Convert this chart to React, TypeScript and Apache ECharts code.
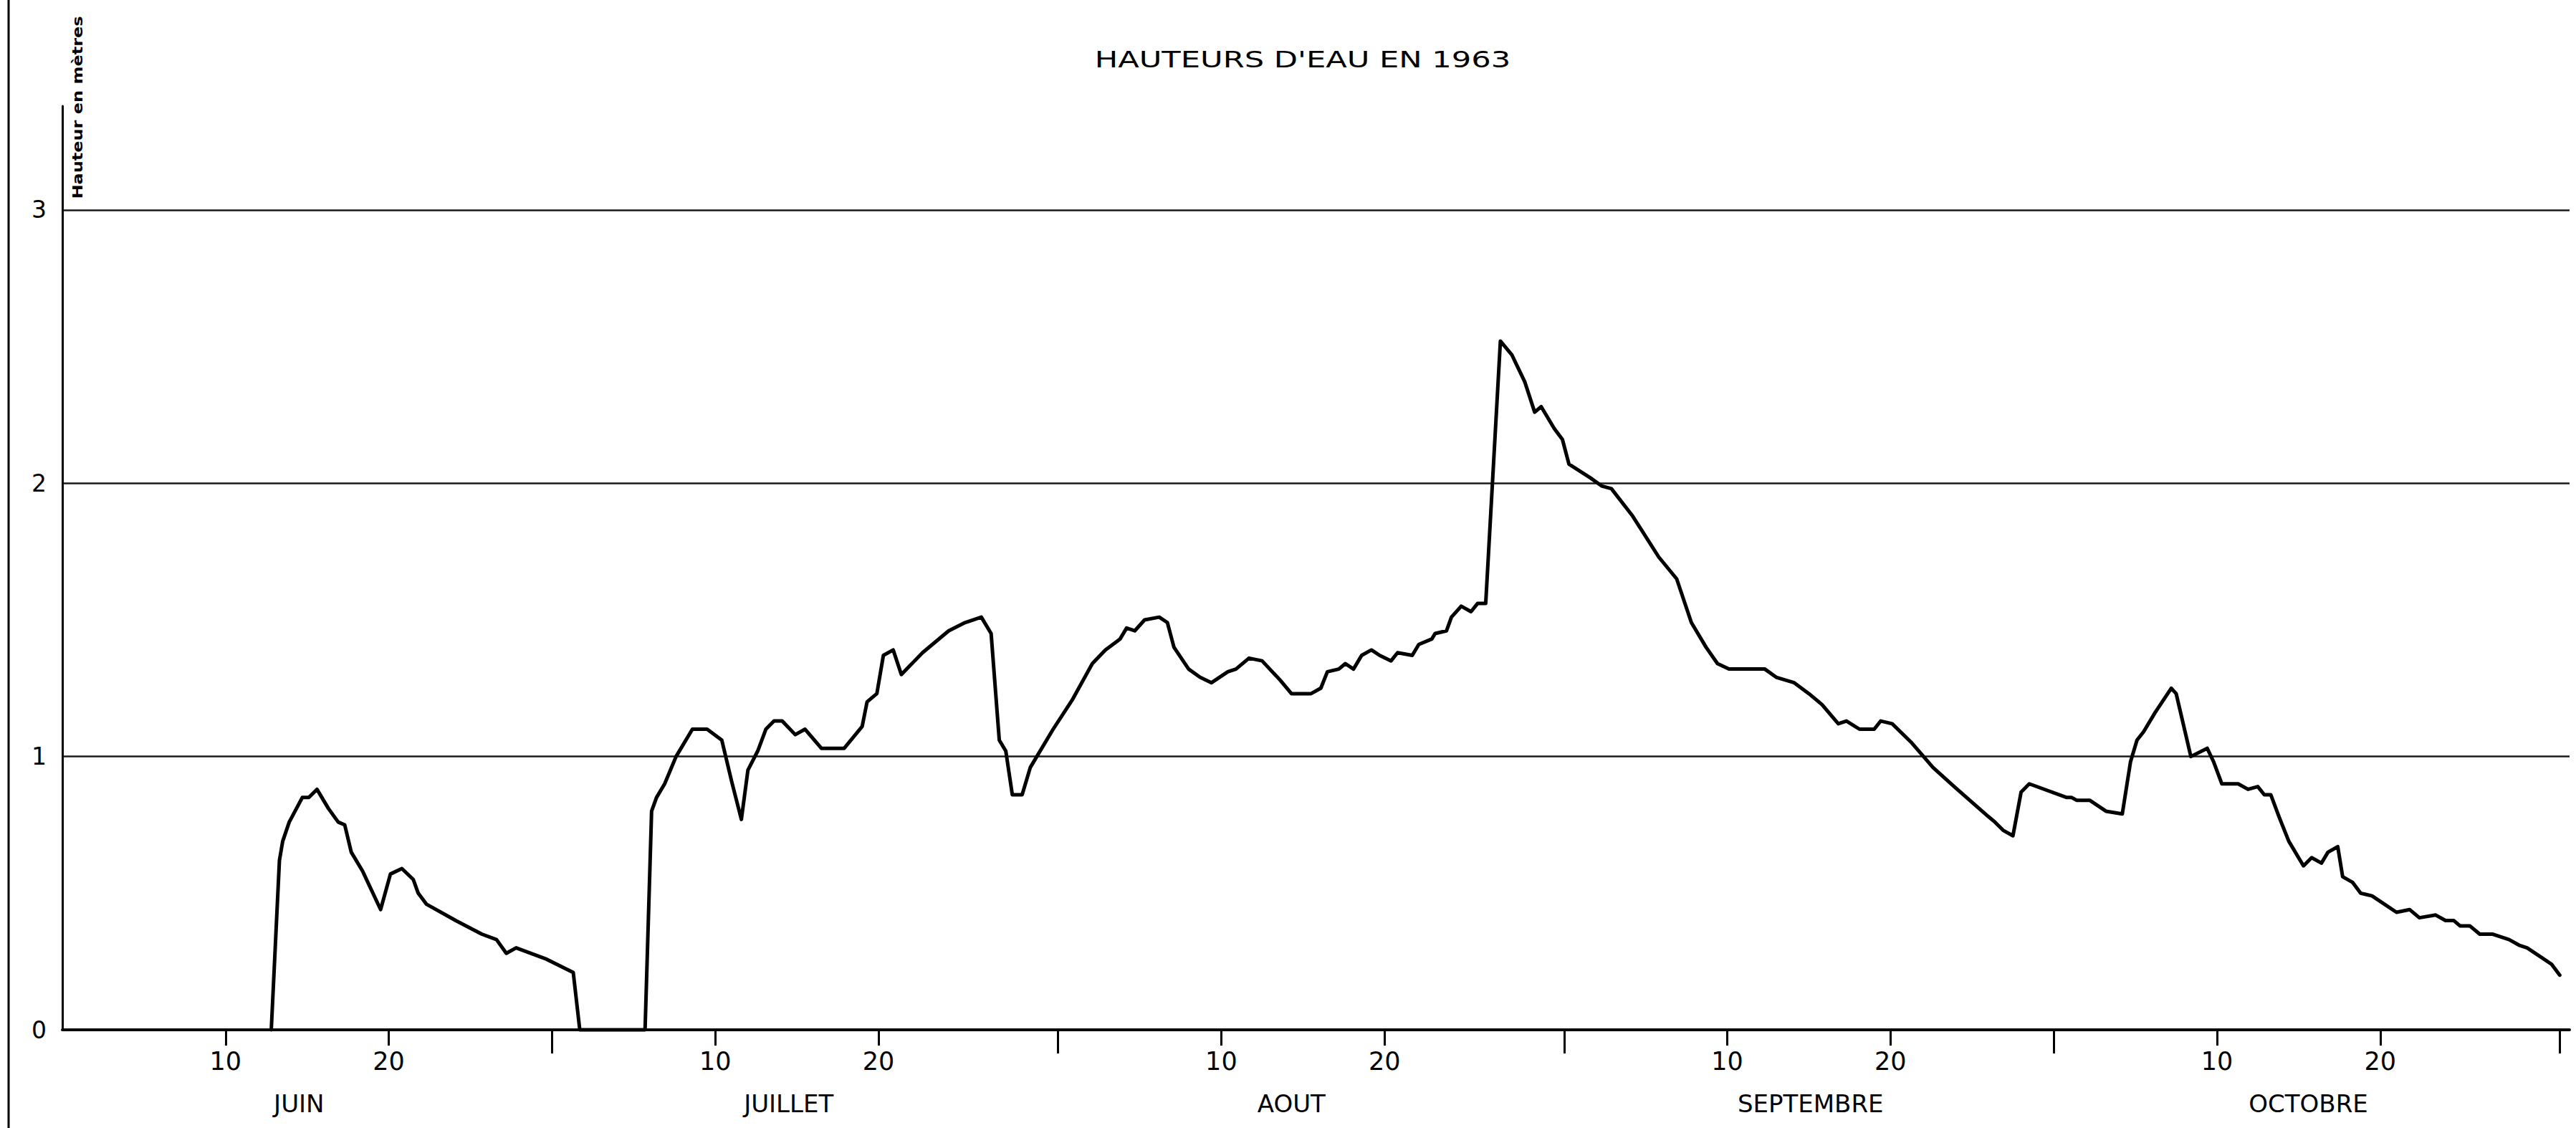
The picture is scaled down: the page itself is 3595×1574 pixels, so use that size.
import React, { useEffect, useRef } from "react";
import * as echarts from "echarts";

// ---- texts ----
const TITLE = "HAUTEURS D'EAU EN 1963";
const Y_NAME = "Hauteur en mètres";
const MONTH_NAMES = ["JUIN", "JUILLET", "AOUT", "SEPTEMBRE", "OCTOBRE"];

// ---- x axis (days counted from 31 May = 0) ----
const MONTH_STARTS = [0, 30, 61, 92, 122];
const MONTH_ENDS = [30, 61, 92, 122, 153];
const MONTH_LABEL_POS = [14.5, 44.5, 75.3, 107.1, 137.6];
const DAY_MARKS = [10, 20];
const X_MAX = 153.6;

// ---- y axis ----
const Y_TICKS = [0, 1, 2, 3];
const Y_MAX = 3.38;

const juin: [number, number][] = [
  [12.8, 0], [13.3, 0.62], [13.5, 0.69], [13.9, 0.76], [14.7, 0.85], [15.1, 0.85],
  [15.6, 0.88], [16.3, 0.81], [16.9, 0.76], [17.3, 0.75], [17.7, 0.65], [18.4, 0.58],
  [19.5, 0.44], [20.1, 0.57], [20.8, 0.59], [21.5, 0.55], [21.8, 0.5], [22.3, 0.46],
  [24.1, 0.4], [25.7, 0.35], [26.6, 0.33], [27.2, 0.28], [27.8, 0.3], [29.6, 0.26],
];
const juillet: [number, number][] = [
  [31.3, 0.21], [31.7, 0], [35.7, 0], [36.1, 0.8], [36.4, 0.85], [36.9, 0.9],
  [37.6, 1.0], [38.6, 1.1], [39.5, 1.1], [40.4, 1.06], [41.0, 0.91], [41.6, 0.77],
  [42.0, 0.95], [42.6, 1.02], [43.1, 1.1], [43.6, 1.13], [44.1, 1.13], [44.9, 1.08],
  [45.5, 1.1], [46.5, 1.03], [47.9, 1.03], [49.0, 1.11], [49.3, 1.2], [49.9, 1.23],
  [50.3, 1.37], [50.9, 1.39], [51.4, 1.3], [52.7, 1.38], [54.3, 1.46], [55.3, 1.49],
  [56.3, 1.51], [56.9, 1.45], [57.4, 1.06], [57.8, 1.02], [58.2, 0.86], [58.8, 0.86],
  [59.3, 0.96], [60.7, 1.1],
];
const aout: [number, number][] = [
  [61.9, 1.21], [63.1, 1.34], [63.9, 1.39], [64.8, 1.43], [65.2, 1.47], [65.7, 1.46],
  [66.3, 1.5], [67.2, 1.51], [67.7, 1.49], [68.1, 1.4], [69.0, 1.32], [69.7, 1.29],
  [70.4, 1.27], [71.4, 1.31], [71.9, 1.32], [72.7, 1.36], [73.5, 1.35], [74.6, 1.28],
  [75.3, 1.23], [76.5, 1.23], [77.1, 1.25], [77.5, 1.31], [78.2, 1.32], [78.6, 1.34],
  [79.1, 1.32], [79.6, 1.37], [80.2, 1.39], [80.7, 1.37], [81.4, 1.35], [81.8, 1.38],
  [82.7, 1.37], [83.1, 1.41], [83.9, 1.43], [84.1, 1.45], [84.8, 1.46], [85.1, 1.51],
  [85.7, 1.55], [86.3, 1.53], [86.7, 1.56], [87.2, 1.56], [88.1, 2.52], [88.8, 2.47],
  [89.6, 2.37], [90.2, 2.26], [90.6, 2.28], [91.4, 2.2], [91.9, 2.16],
];
const septembre: [number, number][] = [
  [92.3, 2.07], [93.6, 2.02], [94.3, 1.99], [94.9, 1.98], [96.2, 1.88], [97.8, 1.73],
  [98.9, 1.65], [99.8, 1.49], [100.7, 1.4], [101.4, 1.34], [102.1, 1.32], [104.3, 1.32],
  [105.0, 1.29], [106.1, 1.27], [107.0, 1.23], [107.8, 1.19], [108.8, 1.12], [109.3, 1.13],
  [110.1, 1.1], [111.0, 1.1], [111.4, 1.13], [112.1, 1.12], [113.3, 1.05], [114.6, 0.96],
  [115.9, 0.89], [118.0, 0.78], [118.4, 0.76], [118.9, 0.73], [119.5, 0.71], [120.0, 0.87],
  [120.5, 0.9],
];
const octobre: [number, number][] = [
  [122.8, 0.85], [123.1, 0.85], [123.4, 0.84], [124.2, 0.84], [125.2, 0.8], [126.2, 0.79],
  [126.7, 0.98], [127.1, 1.06], [127.5, 1.09], [128.2, 1.16], [129.2, 1.25], [129.5, 1.23],
  [130.4, 1.0], [131.4, 1.03], [131.8, 0.98], [132.3, 0.9], [133.3, 0.9], [133.9, 0.88],
  [134.5, 0.89], [134.9, 0.86], [135.3, 0.86], [135.8, 0.78], [136.4, 0.69], [137.3, 0.6],
  [137.8, 0.63], [138.4, 0.61], [138.8, 0.65], [139.4, 0.67], [139.7, 0.56], [140.3, 0.54],
  [140.8, 0.5], [141.5, 0.49], [143.0, 0.43], [143.8, 0.44], [144.4, 0.41], [145.4, 0.42],
  [146.0, 0.4], [146.5, 0.4], [146.9, 0.38], [147.5, 0.38], [148.1, 0.35], [148.9, 0.35],
  [149.9, 0.33], [150.5, 0.31], [151.0, 0.3], [152.5, 0.24], [153.0, 0.2],
];

const FONT = "DejaVu Sans";

export default function App() {
  const ref = useRef<HTMLDivElement>(null);

  useEffect(() => {
    if (!ref.current) return;
    const chart = echarts.init(ref.current, null, { renderer: "svg" });

    const dayTicks = MONTH_STARTS.flatMap((s) => DAY_MARKS.map((d) => s + d));
    const dayLabel = (v: number) => {
      const starts = MONTH_STARTS.filter((s) => s < v);
      const s = starts[starts.length - 1];
      return String(Math.round(v - s));
    };
    const monthLabel = (v: number) => {
      const i = MONTH_LABEL_POS.findIndex((p) => Math.abs(p - v) < 0.01);
      return i >= 0 ? MONTH_NAMES[i] : "";
    };
    const data = [...juin, ...juillet, ...aout, ...septembre, ...octobre];

    const baseX = {
      type: "value",
      min: 0,
      max: X_MAX,
      gridIndex: 0,
      position: "bottom",
      offset: 0,
      splitLine: { show: false },
    };

    chart.setOption({
      animation: false,
      backgroundColor: "#ffffff",
      grid: { left: 87, right: 9, top: 148, bottom: 137, containLabel: false },
      xAxis: [
        {
          ...baseX,
          axisLine: { show: true, onZero: false, lineStyle: { color: "#000", width: 4 } },
          axisTick: { show: true, customValues: dayTicks, length: 22, lineStyle: { color: "#000", width: 3 } },
          axisLabel: {
            show: true,
            customValues: dayTicks,
            formatter: dayLabel,
            margin: 26,
            color: "#000",
            fontSize: 35,
            fontFamily: FONT,
          },
        },
        {
          ...baseX,
          axisLine: { show: false, onZero: false },
          axisTick: { show: true, customValues: MONTH_ENDS, length: 33, lineStyle: { color: "#000", width: 3 } },
          axisLabel: { show: false },
        },
        {
          ...baseX,
          axisLine: { show: false, onZero: false },
          axisTick: { show: false },
          axisLabel: {
            show: true,
            customValues: MONTH_LABEL_POS,
            formatter: monthLabel,
            margin: 86,
            color: "#000",
            fontSize: 34,
            fontFamily: FONT,
          },
        },
      ],
      yAxis: {
        type: "value",
        min: 0,
        max: Y_MAX,
        interval: 1,
        axisLine: { show: true, lineStyle: { color: "#000", width: 3 } },
        axisTick: { show: false, customValues: Y_TICKS },
        axisLabel: {
          customValues: Y_TICKS,
          formatter: (v: number) => (Number.isInteger(v) ? String(v) : ""),
          margin: 22,
          color: "#000",
          fontSize: 33,
          fontFamily: FONT,
        },
        splitLine: {
          show: true,
          showMinLine: false,
          lineStyle: { color: "#1a1a1a", width: 2.5, type: "solid" },
        },
      },
      graphic: [
        {
          type: "line",
          shape: { x1: 12, y1: 0, x2: 12, y2: 1574 },
          style: { stroke: "#000", lineWidth: 3 },
          silent: true,
        },
        {
          type: "text",
          x: 1818,
          y: 83,
          scaleX: 1.35,
          style: {
            text: TITLE,
            fill: "#000",
            fontSize: 32,
            fontFamily: FONT,
            textAlign: "center",
            textVerticalAlign: "middle",
          },
        },
        {
          type: "text",
          x: 108,
          y: 150,
          rotation: Math.PI / 2,
          scaleX: 1.2,
          style: {
            text: Y_NAME,
            fill: "#000",
            fontSize: 20,
            fontWeight: "bold",
            fontFamily: FONT,
            textAlign: "center",
            textVerticalAlign: "middle",
          },
        },
      ],
      series: [
        {
          type: "line",
          xAxisIndex: 0,
          data,
          showSymbol: false,
          symbol: "none",
          lineStyle: { color: "#000", width: 5, join: "round", cap: "round" },
          clip: false,
        },
      ],
    });

    return () => chart.dispose();
  }, []);

  return (
    <div
      ref={ref}
      style={{ position: "fixed", left: 0, top: 0, width: 3595, height: 1574, background: "#fff" }}
    />
  );
}
